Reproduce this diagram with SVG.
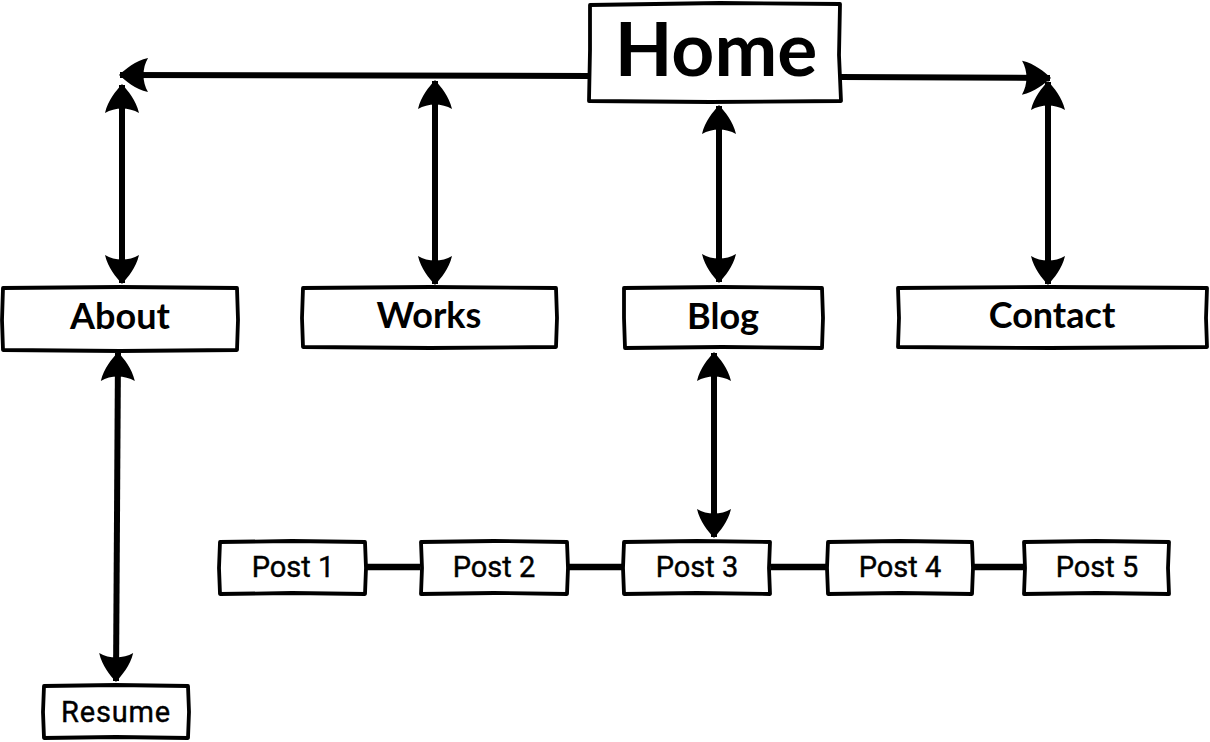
<svg xmlns="http://www.w3.org/2000/svg" width="1210" height="742" viewBox="0 0 1210 742">
  <style>
    .box { fill: #ffffff; stroke: #000000; stroke-width: 3.8; stroke-linejoin: round; stroke-linecap: round; }
    .big { font-family: "Lato", "Noto Sans", sans-serif; font-weight: 700; fill: #000; text-anchor: middle; }
    .small { font-family: "Roboto", "Liberation Sans", Arial, sans-serif; font-weight: 400; fill: #000; text-anchor: middle; font-size: 29px; stroke: #000; stroke-width: 0.4; }
    .link { fill: none; stroke: #000; stroke-width: 6.5; }
    .arrow { fill: none; stroke: #000; stroke-width: 6; marker-end: url(#head); marker-start: url(#head); }
    .arrow1 { fill: none; stroke: #000; stroke-width: 6; marker-end: url(#head); }
  </style>
  <defs>
    <marker id="head" markerUnits="userSpaceOnUse" orient="auto-start-reverse" refX="0" refY="0"
            viewBox="-34 -20 38 40" markerWidth="38" markerHeight="40" overflow="visible">
      <path d="M1,0 C-6,-6 -15,-14 -28,-17 C-22,-7 -22,7 -28,17 C-15,14 -6,6 1,0 Z" fill="#000"/>
    </marker>
  </defs>

  <rect width="1210" height="742" fill="#ffffff"/>

  <g id="connectors">
    <!-- Home to the side ends of the top rail -->
    <path class="arrow1" d="M590,76 L120,75"/>
    <path class="arrow1" d="M840,77 L1050,78"/>
    <!-- rail to section pages -->
    <path class="arrow" d="M122,85 L122,283"/>
    <path class="arrow" d="M435,81 L435,284"/>
    <path class="arrow" d="M719,106 L719,282"/>
    <path class="arrow" d="M1048,82 L1048,284"/>
    <!-- sub pages -->
    <path class="arrow" d="M118,353 L116,681"/>
    <path class="arrow" d="M714,353 L714,537"/>
    <!-- post chain -->
    <path class="link" d="M366,567 L420,567"/>
    <path class="link" d="M568,567 L622,567"/>
    <path class="link" d="M771,567 L827,567"/>
    <path class="link" d="M973,567 L1024,567"/>
  </g>

  <g id="home">
    <path class="box" d="M590,5 L720,3 L840,4 L839,55 L841,101 L710,102 L589,101 L590,50 Z"/>
    <text class="big" x="716" y="76" font-size="75">Home</text>
  </g>

  <g id="about">
    <path class="box" d="M3,288 L120,287 L237,288 L238,320 L237,350 L120,351 L3,350 L2,320 Z"/>
    <text class="big" x="120" y="329" font-size="36">About</text>
  </g>

  <g id="works">
    <path class="box" d="M303,288 L430,287 L556,288 L557,318 L556,347 L430,348 L303,347 L302,318 Z"/>
    <text class="big" x="429" y="328" font-size="36">Works</text>
  </g>

  <g id="blog">
    <path class="box" d="M624,288 L722,287 L822,288 L823,318 L822,348 L722,347 L625,348 L624,318 Z"/>
    <text class="big" x="723" y="329" font-size="36">Blog</text>
  </g>

  <g id="contact">
    <path class="box" d="M898,288 L1050,287 L1207,288 L1206,318 L1207,347 L1050,348 L898,347 L899,318 Z"/>
    <text class="big" x="1052" y="328" font-size="36">Contact</text>
  </g>

  <g id="post1">
    <path class="box" d="M220,542 L292,541 L365,542 L366,568 L365,594 L292,593 L220,594 L219,568 Z"/>
    <text class="small" x="293" y="577">Post 1</text>
  </g>

  <g id="post2">
    <path class="box" d="M421,542 L494,541 L567,542 L568,568 L567,594 L494,593 L421,594 L422,568 Z"/>
    <text class="small" x="494" y="577">Post 2</text>
  </g>

  <g id="post3">
    <path class="box" d="M624,542 L697,541 L770,542 L769,568 L770,594 L697,593 L624,594 L623,568 Z"/>
    <text class="small" x="697" y="577">Post 3</text>
  </g>

  <g id="post4">
    <path class="box" d="M828,542 L900,541 L972,542 L973,568 L972,594 L900,593 L828,594 L827,568 Z"/>
    <text class="small" x="900" y="577">Post 4</text>
  </g>

  <g id="post5">
    <path class="box" d="M1024,542 L1096,541 L1169,542 L1168,568 L1169,594 L1096,593 L1024,594 L1025,568 Z"/>
    <text class="small" x="1097" y="577">Post 5</text>
  </g>

  <g id="resume">
    <path class="box" d="M44,686 L116,685 L188,686 L189,712 L188,738 L116,737 L44,738 L43,712 Z"/>
    <text class="small" x="116" y="722" font-size="30" letter-spacing="0.8">Resume</text>
  </g>
</svg>
